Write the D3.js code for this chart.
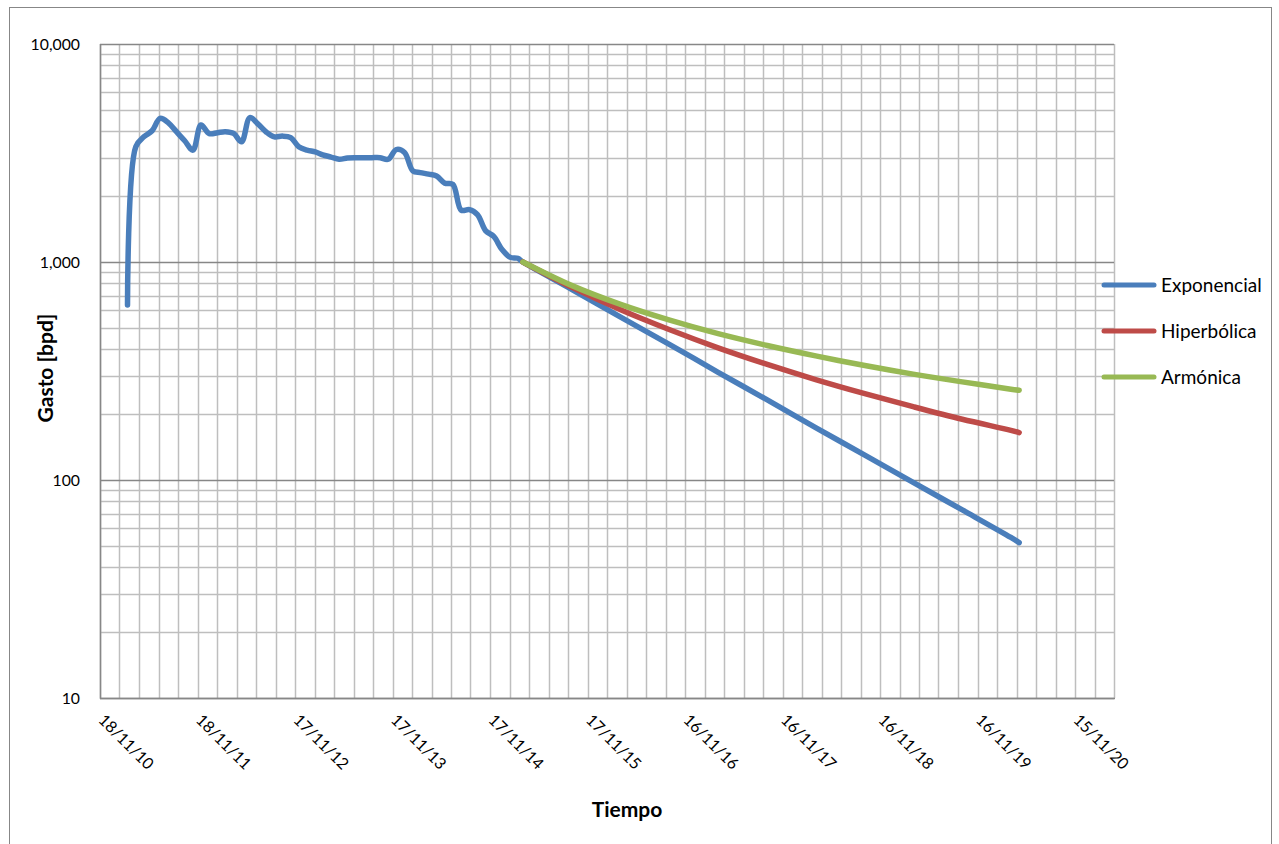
<!DOCTYPE html>
<html>
<head>
<meta charset="utf-8">
<script src="https://cdn.jsdelivr.net/npm/d3@7"></script>
<style>
  html, body { margin: 0; padding: 0; background: #fff; }
  svg { display: block; }
  text { font-family: Lato, "Open Sans", sans-serif; fill: #000; }
</style>
</head>
<body>
<svg id="chart" width="1279" height="844"></svg>
<script>
// Monthly measured rate (bpd), then the start of the decline forecast
const historyDates = [
  "2011-03-01","2011-04-01","2011-05-01","2011-06-01","2011-07-01","2011-08-01","2011-09-01","2011-10-01","2011-11-01","2011-12-01",
  "2012-01-01","2012-02-01","2012-03-01","2012-04-01","2012-05-01","2012-06-01","2012-07-01","2012-08-01","2012-09-01","2012-10-01","2012-11-01","2012-12-01",
  "2013-01-01","2013-02-01","2013-03-01","2013-04-01","2013-05-01","2013-06-01","2013-07-01","2013-08-01","2013-09-01","2013-10-01","2013-11-01","2013-12-01",
  "2014-01-01","2014-02-01","2014-03-01","2014-04-01","2014-05-01","2014-06-01","2014-07-01","2014-08-01","2014-09-01","2014-10-01","2014-11-01","2014-12-01",
  "2015-01-01","2015-02-01","2015-03-01","2015-03-20"
];
const historyValues = [
  635, 3380, 3750, 4000, 4560, 4350, 3950, 3600, 3260, 4250,
  3880, 3920, 3960, 3890, 3560, 4600, 4300, 3950, 3750, 3780, 3720, 3380,
  3260, 3200, 3100, 3030, 2960, 3000, 3010, 3010, 3010, 3010, 2960, 3280,
  3180, 2620, 2570, 2530, 2480, 2300, 2270, 1730, 1740, 1650, 1390, 1310,
  1140, 1050, 1040, 1000
];

// Decline forecasts
const forecastDates = [
  "2015-03-20","2015-09-20","2016-03-20","2016-09-20","2017-03-20","2017-09-20",
  "2018-03-20","2018-09-20","2019-03-20","2019-09-20","2020-03-20","2020-04-20"
];
const exponentialValues = [1000, 748, 559, 418, 312, 233, 174, 130, 97.5, 72.9, 54.5, 51.6];
const hyperbolicValues  = [1000, 765, 604, 489, 404, 339, 289, 249, 217, 190, 169, 165];
const harmonicValues    = [1000, 779, 639, 541, 469, 414, 371, 335, 306, 282, 261, 258];

const seriesNames  = ["Exponencial", "Hiperbólica", "Armónica"];
const seriesColors = ["#4A7EBB", "#BE4B48", "#98B954"];

const yTickValues = [10, 100, 1000, 10000];
const axisStart = "2010-11-18";
const majorStepDays = 365;
const minorStepDays = 73;
const axisSpanDays = 3796;

// ---------------------------------------------------------------
const svg = d3.select("#chart");
const plot = { left: 100, right: 1114, top: 44, bottom: 698 };
const DAY = 864e5;
const parse = d3.utcParse("%Y-%m-%d");
const t0 = parse(axisStart);
const t1 = new Date(+t0 + axisSpanDays * DAY);

const x = d3.scaleUtc().domain([t0, t1]).range([plot.left, plot.right]);
const y = d3.scaleLog().domain([10, 10000]).range([plot.bottom, plot.top]);

// chart frame
svg.append("rect")
  .attr("x", 9.5).attr("y", 7.5).attr("width", 1262).attr("height", 860)
  .attr("fill", "#fff").attr("stroke", "#878787").attr("stroke-width", 1);

const grid = svg.append("g");

// vertical grid, one line every minor step
const minorDates = d3.range(0, axisSpanDays + 1, minorStepDays).map(d => new Date(+t0 + d * DAY));
grid.selectAll("line.vx").data(minorDates).join("line")
  .attr("x1", d => Math.round(x(d)) + 0.5).attr("x2", d => Math.round(x(d)) + 0.5)
  .attr("y1", plot.top).attr("y2", plot.bottom)
  .attr("stroke", "#BEBEBE").attr("stroke-width", 1.5);

// horizontal grid: 2..9 within each decade, then the decades
const minorY = [];
yTickValues.slice(0, -1).forEach(dec => { for (let m = 2; m <= 9; m++) minorY.push(dec * m); });
grid.selectAll("line.hy").data(minorY).join("line")
  .attr("x1", plot.left).attr("x2", plot.right)
  .attr("y1", d => Math.round(y(d)) + 0.5).attr("y2", d => Math.round(y(d)) + 0.5)
  .attr("stroke", "#BEBEBE").attr("stroke-width", 1.5);
grid.selectAll("line.hmaj").data(yTickValues).join("line")
  .attr("x1", plot.left).attr("x2", plot.right)
  .attr("y1", d => Math.round(y(d)) + 0.5).attr("y2", d => Math.round(y(d)) + 0.5)
  .attr("stroke", "#878787").attr("stroke-width", 1.5);

// axes lines
svg.append("line").attr("x1", plot.left + 0.5).attr("x2", plot.left + 0.5)
  .attr("y1", plot.top).attr("y2", plot.bottom + 1).attr("stroke", "#878787").attr("stroke-width", 1.5);
svg.append("line").attr("x1", plot.left).attr("x2", plot.right + 1)
  .attr("y1", plot.bottom + 0.5).attr("y2", plot.bottom + 0.5).attr("stroke", "#878787").attr("stroke-width", 1.5);

// y axis labels
const fmt = d3.format(",");
const yAxis = d3.axisLeft(y).tickValues(yTickValues).tickFormat(fmt).tickSize(0).tickPadding(20);
const gy = svg.append("g").attr("transform", `translate(${plot.left},0)`).call(yAxis);
gy.select(".domain").remove();
gy.selectAll("text").attr("font-size", "15.8px").attr("font-family", "Lato, sans-serif").attr("fill", "#000");

// x axis labels, rotated
const majorDates = d3.range(0, axisSpanDays, majorStepDays).map(d => new Date(+t0 + d * DAY));
const xfmt = d3.utcFormat("%d/%m/%y");
svg.append("g").selectAll("text").data(majorDates).join("text")
  .attr("transform", d => `translate(${x(d) - 2.5},721) rotate(45)`)
  .attr("font-size", "16px")
  .text(d => xfmt(d));

// axis titles
svg.append("text")
  .attr("transform", "translate(53,368) rotate(-90)")
  .attr("text-anchor", "middle").attr("font-weight", "bold").attr("font-size", "21px")
  .text("Gasto [bpd]");
svg.append("text")
  .attr("x", 627).attr("y", 817)
  .attr("text-anchor", "middle").attr("font-weight", "bold").attr("font-size", "21px")
  .text("Tiempo");

// series
const line = d3.line().x(d => x(d.date)).y(d => y(d.value)).curve(d3.curveCatmullRom.alpha(0.5));
const toPts = (dates, vals) => dates.map((d, i) => ({ date: parse(d), value: vals[i] }));

const series = [
  toPts(historyDates, historyValues).concat(toPts(forecastDates, exponentialValues).slice(1)),
  toPts(forecastDates, hyperbolicValues),
  toPts(forecastDates, harmonicValues)
];

svg.append("g").selectAll("path").data(series).join("path")
  .attr("d", line)
  .attr("fill", "none")
  .attr("stroke", (d, i) => seriesColors[i])
  .attr("stroke-width", 5.5)
  .attr("stroke-linecap", "round")
  .attr("stroke-linejoin", "round");

// legend
const lg = svg.append("g").attr("transform", "translate(1104,285)");
const items = lg.selectAll("g").data(seriesNames).join("g")
  .attr("transform", (d, i) => `translate(0,${i * 46})`);
items.append("line").attr("x1", 0).attr("x2", 50).attr("y1", 0).attr("y2", 0)
  .attr("stroke", (d, i) => seriesColors[i]).attr("stroke-width", 5).attr("stroke-linecap", "round");
items.append("text").attr("x", 57).attr("y", 0).attr("dy", "0.35em")
  .attr("font-size", "19px").text(d => d);
</script>
</body>
</html>
